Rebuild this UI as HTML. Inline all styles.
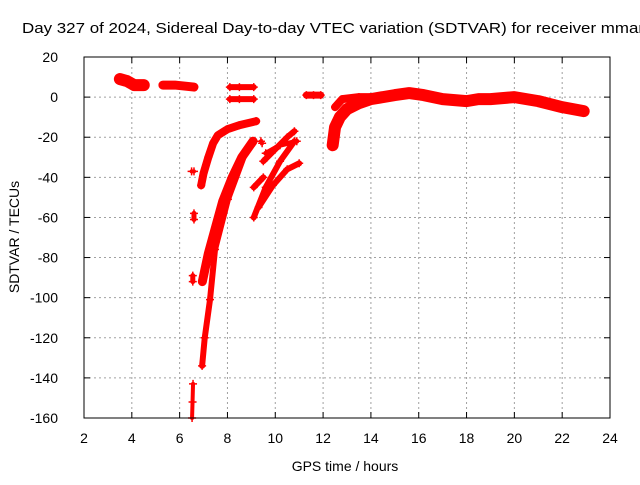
<!DOCTYPE html>
<html><head><meta charset="utf-8"><style>
body{margin:0;background:#fff;font-family:"Liberation Sans",sans-serif}
svg text{font-family:"Liberation Sans",sans-serif;font-size:14px;fill:#000}
</style></head><body>
<svg width="640" height="480" id="c">
<text x="22" y="33" style="font-size:15px" textLength="622" lengthAdjust="spacingAndGlyphs">Day 327 of 2024, Sidereal Day-to-day VTEC variation (SDTVAR) for receiver mmar</text>
<text x="345" y="471" text-anchor="middle">GPS time / hours</text>
<text x="0" y="0" transform="translate(19,237) rotate(-90)" text-anchor="middle">SDTVAR / TECUs</text>
<g id="grid"></g><g id="marks"></g>
<rect x="84" y="57" width="526" height="361" fill="none" stroke="#000"/>
</svg>
<script>
const xTicks=[2,4,6,8,10,12,14,16,18,20,22,24];
const yTicks=[20,0,-20,-40,-60,-80,-100,-120,-140,-160];
const track1=[[3.5,9],[3.8,8],[4.1,6],[4.5,6]];
const track2=[[5.3,6],[5.8,6],[6.2,5.5],[6.6,5]];
const track3=[[8.1,5],[8.5,5],[9.1,5]];
const track4=[[8.1,-1],[8.5,-1],[9.1,-1]];
const track5=[[11.3,1],[11.6,1],[11.9,1]];
const track6=[[12.4,-24],[12.5,-15],[12.7,-10],[13,-6],[13.5,-3],[14,-1],[15,1],[15.6,2],[16.2,1],[17,-1],[18,-2],[18.5,-1],[19,-1],[20,0],[21,-2],[22,-5],[22.9,-7]];
const track7=[[12.5,-5],[12.8,-1],[13.5,0],[14,0]];
const track8=[[6.9,-44],[7.0,-38],[7.2,-30],[7.4,-23],[7.6,-19],[8,-16],[8.5,-14],[9.2,-12]];
const track9=[[6.95,-92],[7.2,-78],[7.5,-65],[7.8,-52],[8.2,-40],[8.6,-30],[9.07,-22]];
const track10=[[6.94,-134],[7.05,-120],[7.27,-101],[7.48,-76],[8.02,-51],[8.8,-26]];
const track11=[[6.52,-160],[6.54,-152],[6.56,-143]];
const track12=[[6.6,-58],[6.6,-61]];
const track13=[[6.55,-89],[6.55,-92]];
const track14=[[6.5,-37],[6.6,-37]];
const track15=[[9.1,-60],[9.6,-45],[10.2,-32],[10.8,-22]];
const track16=[[9.3,-55],[9.9,-44],[10.5,-36],[11.0,-33]];
const track17=[[9.5,-32],[10.0,-26],[10.5,-20],[10.8,-17]];
const track18=[[9.6,-28],[10.2,-24],[10.9,-22]];
const track19=[[9.1,-45],[9.5,-40]];
const track20=[[9.4,-22],[9.45,-23]];
const tracks=[track1,track2,track3,track4,track5,track6,track7,track8,track9,track10,track11,track12,track13,track14,track15,track16,track17,track18,track19,track20];
const widths=[12,9,6,6,7,12,8,8,9,6,4,5,5,4,6,6,6,5,6,4];
const NS="http://www.w3.org/2000/svg";
const X=v=>84+(v-2)*526/22, Y=v=>57+(20-v)*361/180;
const g=document.getElementById('grid'), m=document.getElementById('marks');
function mk(t,a,p){const e=document.createElementNS(NS,t);for(const k in a)e.setAttribute(k,a[k]);p.appendChild(e);return e;}
xTicks.forEach(v=>{const x=X(v);
 if(v>2&&v<24){const l=mk('line',{x1:x,x2:x,y1:57,y2:418,stroke:'#a0a0a0','stroke-dasharray':'2,3'},g);}
 mk('line',{x1:x,x2:x,y1:418,y2:412,stroke:'#000'},g);mk('line',{x1:x,x2:x,y1:57,y2:63,stroke:'#000'},g);
 const t=mk('text',{x:x,y:443,'text-anchor':'middle'},g);t.textContent=v;
 });
yTicks.forEach(v=>{const y=Y(v);
 if(v<20&&v>-160){const l=mk('line',{x1:84,x2:610,y1:y,y2:y,stroke:'#a0a0a0','stroke-dasharray':'2,3'},g);}
 mk('line',{x1:84,x2:90,y1:y,y2:y,stroke:'#000'},g);mk('line',{x1:610,x2:604,y1:y,y2:y,stroke:'#000'},g);
 const t=mk('text',{x:58,y:y+5,'text-anchor':'end'},g);t.textContent=v;
 });
tracks.forEach((tr,i)=>{
 const p=mk('polyline',{points:tr.map(d=>X(d[0])+','+Y(d[1])).join(' '),fill:'none',stroke:'#f00','stroke-width':widths[i],'stroke-linejoin':'round','stroke-linecap':'round'},m);
 
 
 tr.forEach(d=>{const x=X(d[0]),y=Y(d[1]);
  const c=mk('path',{d:`M${x-4},${y}h8M${x},${y-4}v8`,stroke:'#f00','stroke-width':1.5},m);
  
  });
});
</script>
</body></html>
